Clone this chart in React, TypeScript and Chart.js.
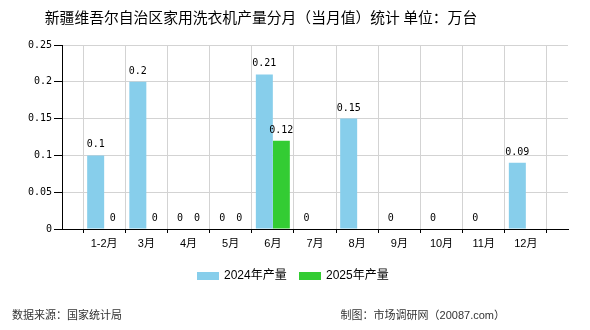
import React, { useEffect, useRef } from "react";
import { Chart, registerables } from "chart.js";

Chart.register(...registerables);

const TITLE = "新疆维吾尔自治区家用洗衣机产量分月（当月值）统计 单位：万台";
const SOURCE_LEFT = "数据来源：国家统计局";
const SOURCE_RIGHT = "制图：市场调研网（20087.com）";

const categories = ["1-2月", "3月", "4月", "5月", "6月", "7月", "8月", "9月", "10月", "11月", "12月"];
const series2024Label = "2024年产量";
const series2025Label = "2025年产量";
const values2024: (number | null)[] = [0.1, 0.2, 0, 0, 0.21, 0, 0.15, 0, 0, 0, 0.09];
const values2025: (number | null)[] = [0, 0, 0, 0, 0.12, null, null, null, null, null, null];
const yTicks = [0, 0.05, 0.1, 0.15, 0.2, 0.25];

const COLOR_2024 = "#87CEEB";
const COLOR_2025 = "#33CC33";
const CJK = '"Noto Sans CJK SC"';
const MONO = '"DejaVu Sans Mono"';

const decorPlugin = {
  id: "decor",
  afterDatasetsDraw(chart: any) {
    const ctx = chart.ctx;
    ctx.save();
    ctx.font = `10px ${MONO}`;
    ctx.fillStyle = "#000";
    ctx.textAlign = "center";
    ctx.textBaseline = "alphabetic";
    chart.data.datasets.forEach((ds: any, di: number) => {
      const meta = chart.getDatasetMeta(di);
      meta.data.forEach((el: any, i: number) => {
        const v = ds.data[i];
        if (v === null || v === undefined) return;
        ctx.fillText(String(v), el.x, el.y - 8);
      });
    });
    ctx.restore();
  },
  afterDraw(chart: any) {
    const ctx = chart.ctx;
    ctx.save();
    ctx.font = `14.8px ${CJK}`;
    ctx.fillStyle = "#000";
    ctx.textAlign = "center";
    ctx.textBaseline = "middle";
    ctx.fillText(TITLE, 261, 17);
    ctx.font = `12px "Liberation Sans", ${CJK}`;
    ctx.textAlign = "left";
    let x = 197;
    const cy = 276;
    chart.data.datasets.forEach((ds: any) => {
      ctx.fillStyle = ds.backgroundColor;
      ctx.fillRect(x, cy - 4, 22, 8);
      ctx.fillStyle = "#000";
      ctx.fillText(ds.label, x + 27, cy);
      x += 102;
    });
    ctx.font = `11px "Liberation Sans", ${CJK}`;
    ctx.fillStyle = "#333";
    ctx.textAlign = "left";
    ctx.fillText(SOURCE_LEFT, 12, 316);
    ctx.textAlign = "right";
    ctx.fillText(SOURCE_RIGHT, 505, 316);
    ctx.restore();
  },
};

export default function App() {
  const ref = useRef<HTMLCanvasElement>(null);
  useEffect(() => {
    if (!ref.current) return;
    const labels = ["", ...categories, ""];
    const chart = new Chart(ref.current, {
      type: "bar",
      data: {
        labels,
        datasets: [
          { label: series2024Label, data: [null, ...values2024, null], backgroundColor: COLOR_2024 },
          { label: series2025Label, data: [null, ...values2025, null], backgroundColor: COLOR_2025 },
        ],
      },
      options: {
        responsive: false,
        animation: false,
        devicePixelRatio: 1,
        layout: { padding: { top: 45, left: 0, right: 22, bottom: 80 } },
        datasets: { bar: { categoryPercentage: 0.806, barPercentage: 1 } },
        plugins: { legend: { display: false }, title: { display: false }, tooltip: { enabled: false } },
        scales: {
          x: {
            offset: false,
            afterFit: (s: any) => { s.height = 21; },
            grid: { color: "#d3d3d3", tickColor: "#000", tickLength: 4, drawTicks: true },
            border: { color: "#000", width: 1 },
            ticks: {
              autoSkip: false,
              maxRotation: 0,
              padding: 4,
              color: "#000",
              font: { size: 11, family: `"Liberation Sans", ${CJK}` },
            },
          },
          y: {
            min: 0,
            max: 0.25,
            afterFit: (s: any) => { s.width = 62; },
            afterBuildTicks: (s: any) => { s.ticks = yTicks.map((v) => ({ value: v })); },
            grid: { color: "#d3d3d3", tickColor: "#000", tickLength: 8 },
            border: { color: "#000", width: 1 },
            ticks: {
              padding: 2,
              color: "#000",
              font: { size: 10, family: MONO },
              callback: (v: any) => String(Number(v)),
            },
          },
        },
      },
      plugins: [decorPlugin],
    });
    return () => chart.destroy();
  }, []);
  return (
    <div style={{ position: "absolute", left: 0, top: 0, width: 590, height: 330, background: "#fff" }}>
      <canvas ref={ref} width={590} height={330} style={{ width: 590, height: 330, display: "block" }} />
    </div>
  );
}
